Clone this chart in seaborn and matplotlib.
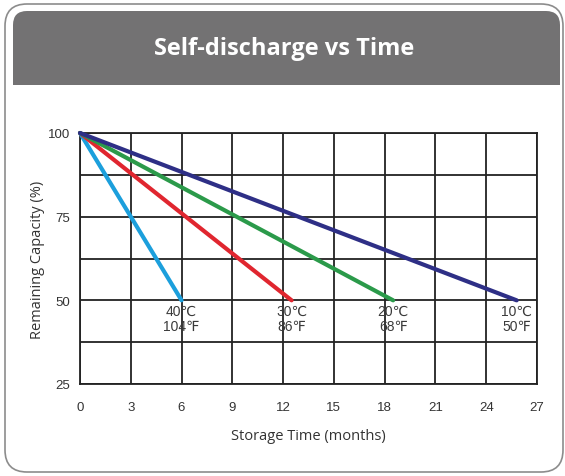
import numpy as np
import pandas as pd

import matplotlib
matplotlib.use('Agg')

import matplotlib.pyplot as plt
from matplotlib.patches import FancyBboxPatch, Rectangle

import seaborn as sns

# data
temps_c = ['40℃', '30℃', '20℃', '10℃']
temps_f = ['104℉', '86℉', '68℉', '50℉']
start_month = 0
start_capacity = 100
end_months = [6, 12.5, 18.5, 25.8]
end_capacity = 50
line_colors = ['#1c9fdc', '#e0262f', '#2b9a4a', '#2e2f86']

x_ticks = [0, 3, 6, 9, 12, 15, 18, 21, 24, 27]
y_ticks = [25, 50, 75, 100]
y_minor = [37.5, 62.5, 87.5]

rows = []
for tc, em in zip(temps_c, end_months):
    rows.append({'temp': tc, 'month': start_month, 'capacity': start_capacity})
    rows.append({'temp': tc, 'month': em, 'capacity': end_capacity})
df = pd.DataFrame(rows)

sns.set_theme(style='white')
plt.rcParams['font.family'] = ['Liberation Sans', 'DejaVu Sans']

W, H = 565, 477
fig = plt.figure(figsize=(W / 100, H / 100), dpi=100)

# background frame + header drawn in pixel coordinates
bg = fig.add_axes([0, 0, 1, 1], zorder=0)
bg.set_xlim(0, W)
bg.set_ylim(H, 0)
bg.axis('off')
bg.add_patch(FancyBboxPatch((5, 5), 558, 468, boxstyle='round,pad=0,rounding_size=22',
                            fill=False, ec='#8c8c8c', lw=1.2))
bg.add_patch(FancyBboxPatch((13, 12), 547, 74, boxstyle='round,pad=0,rounding_size=14',
                            fc='#737273', ec='none'))
bg.add_patch(Rectangle((13, 50), 547, 36, fc='#737273', ec='none'))
bg.text(284, 49, 'Self-discharge vs Time', color='white', fontsize=17, fontweight='bold',
        ha='center', va='center', family=['Open Sans', 'DejaVu Sans'])

ax = fig.add_axes([80 / W, 1 - 385 / H, 457 / W, 251 / H], zorder=1)
ax.patch.set_alpha(0)

sns.lineplot(data=df, x='month', y='capacity', hue='temp', palette=line_colors,
             linewidth=3, legend=False, ax=ax, clip_on=False, zorder=3)

for tc, tf, em in zip(temps_c, temps_f, end_months):
    ax.text(em, 48.9, tc + '\n' + tf, ha='center', va='top', fontsize=10,
            color='#3a3a3a', linespacing=1.05, family=['Liberation Sans', 'DejaVu Sans'])

ax.set_xlim(0, 27)
ax.set_ylim(25, 100)
ax.set_xticks(x_ticks)
ax.set_yticks(y_ticks)
ax.set_yticks(y_minor, minor=True)
ax.grid(True, which='both', color='#222222', lw=1.3)
ax.set_axisbelow(True)
for s in ax.spines.values():
    s.set_color('#222222')
    s.set_linewidth(1.3)
ax.tick_params(axis='both', which='both', length=0, labelsize=9.5, labelcolor='#333333')
ax.tick_params(axis='x', pad=12)
ax.tick_params(axis='y', pad=7)

ax.set_xlabel('Storage Time (months)', fontsize=10.5, color='#333333', labelpad=11,
              family=['Open Sans', 'DejaVu Sans'])
ax.set_ylabel('Remaining Capacity (%)', fontsize=10.5, color='#333333', labelpad=2,
              family=['Open Sans', 'DejaVu Sans'])

plt.savefig('out.png', dpi=100)
plt.close()
